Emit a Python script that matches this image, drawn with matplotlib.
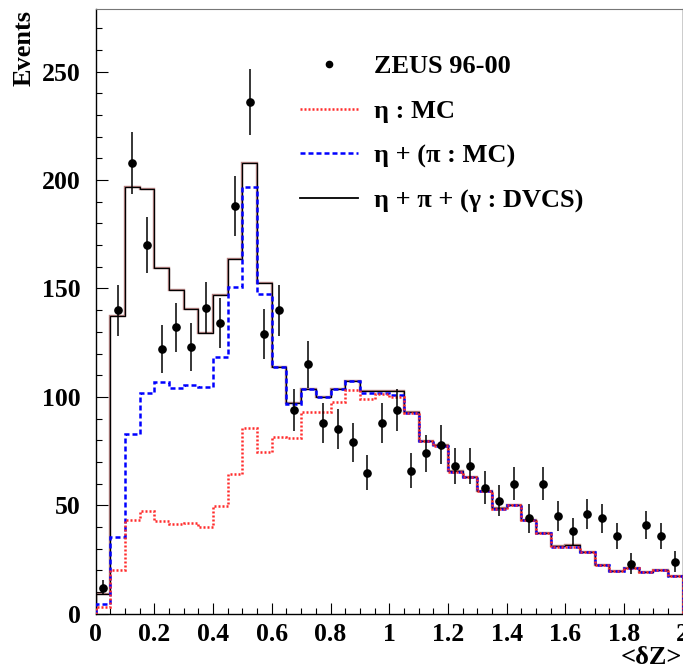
import numpy as np
import matplotlib
matplotlib.use("Agg")
import matplotlib.pyplot as plt
from matplotlib.lines import Line2D

plt.rcParams['font.family'] = ['Liberation Serif', 'DejaVu Serif']
plt.rcParams['font.weight'] = 'bold'

# 40 bins of width 0.05 in <dZ>
edges = np.linspace(0.0, 2.0, 41)
centers = 0.5 * (edges[:-1] + edges[1:])

# ZEUS 96-00 data
data = [12, 140, 208, 170, 122, 132, 123, 141, 134, 188,
        236, 129, 140, 94, 115, 88, 85, 79, 65, 88,
        94, 66, 74, 78, 68, 68, 58, 52, 60, 44,
        60, 45, 38, 46, 44, 36, 23, 41, 36, 24]

# eta : MC
eta_mc = [2.9, 20.1, 43.1, 47.4, 42.8, 41.3, 41.9, 39.8, 49.6, 64.4,
          85.5, 74.7, 81.3, 80.8, 93.1, 93.1, 97.7, 103.1, 98.8, 101.3,
          100.0, 92.4, 79.5, 77.4, 65.4, 62.8, 56.4, 48.1, 49.9, 43.0,
          37.0, 30.8, 30.8, 28.5, 22.4, 19.6, 21.1, 19.3, 20.1, 17.3]

# eta + (pi : MC)
eta_pi = [4.4, 35.2, 82.8, 101.9, 106.8, 104.1, 105.3, 104.4, 118.2, 150.5,
          197.0, 147.6, 113.9, 96.9, 103.5, 100.0, 103.5, 107.4, 101.9, 101.6,
          100.8, 92.5, 79.5, 77.4, 65.4, 62.8, 56.4, 48.1, 49.9, 43.0,
          37.0, 30.8, 30.8, 28.5, 22.4, 19.6, 21.1, 19.3, 20.1, 17.3]

# eta + pi + (gamma : DVCS)
eta_pi_dvcs = [9.0, 137.3, 196.7, 196.0, 159.4, 149.3, 140.4, 129.6, 146.8, 163.4,
               208.0, 152.7, 113.9, 97.0, 103.5, 100.0, 103.5, 107.4, 102.6, 102.6,
               102.6, 92.8, 79.7, 77.6, 65.6, 63.1, 56.7, 48.9, 49.9, 43.1,
               37.0, 31.1, 31.6, 28.5, 22.4, 19.6, 21.1, 19.3, 20.1, 17.3]

fig = plt.figure(figsize=(6.83, 6.70), dpi=100)
ax = fig.add_axes([0.1401, 0.0843, 0.8595, 0.9023])

ax.stairs(eta_pi_dvcs, edges, color='#a06060', lw=1.7, alpha=0.8, zorder=2)
ax.stairs(eta_pi_dvcs, edges, color='black', lw=0.9, zorder=3)
ax.stairs(eta_pi, edges, color='#0000ff', lw=1.8, ls=(0, (2.0, 1.2)), zorder=4)
ax.stairs(eta_mc, edges, color='#ff2a2a', lw=1.8, ls=(0, (0.8, 0.8)), zorder=5)

data = np.array(data, dtype=float)
ax.errorbar(centers, data, yerr=np.sqrt(data), fmt='o', color='black',
            ms=5.2, elinewidth=1.1, capsize=0, zorder=6)

ax.set_xlim(0, 2)
ax.set_ylim(0, 279)
ax.set_xticks(np.arange(0, 2.01, 0.2))
ax.set_xticklabels(['0', '0.2', '0.4', '0.6', '0.8', '1', '1.2', '1.4', '1.6', '1.8', '2'])
ax.set_xticks(np.arange(0, 2.01, 0.05), minor=True)
ax.set_yticks(np.arange(0, 251, 50))
ax.set_yticks(np.arange(0, 271, 10), minor=True)

ax.tick_params(axis='both', which='both', direction='in', top=False, right=False,
               width=0.8, labelsize=18.5)
ax.tick_params(axis='y', which='major', length=8.6, pad=11)
ax.tick_params(axis='y', which='minor', length=4.3)
ax.tick_params(axis='x', which='major', length=8.0, pad=7)
ax.tick_params(axis='x', which='minor', length=4.0)
for lab in ax.get_xticklabels() + ax.get_yticklabels():
    lab.set_fontweight('bold')

for s in ['left', 'bottom', 'right']:
    ax.spines[s].set_linewidth(1.0)
ax.spines['top'].set_color('#777777')

fig.text(0.035, 0.985, 'Events', rotation=90, ha='center', va='top',
         fontsize=19, fontweight='bold')
fig.text(0.998, 0.036, '<δZ>', ha='right', va='top', fontsize=19, fontweight='bold')

handles = [
    Line2D([], [], ls='none', marker='o', color='black', ms=4.5),
    Line2D([], [], color='#ff2a2a', lw=1.8, ls=(0, (0.8, 0.8))),
    Line2D([], [], color='#0000ff', lw=1.8, ls=(0, (2.0, 1.2))),
    Line2D([], [], color='black', lw=1.3),
]
labels = ['ZEUS 96-00', 'η : MC', 'η + (π : MC)', 'η + π + (γ : DVCS)']
ax.legend(handles, labels, loc='upper left', bbox_to_anchor=(0.348, 0.924),
          frameon=False, handlelength=2.2, handletextpad=0.6,
          labelspacing=0.8, borderpad=0, borderaxespad=0,
          prop={'weight': 'bold', 'size': 19})

fig.savefig('out.png', dpi=100)
